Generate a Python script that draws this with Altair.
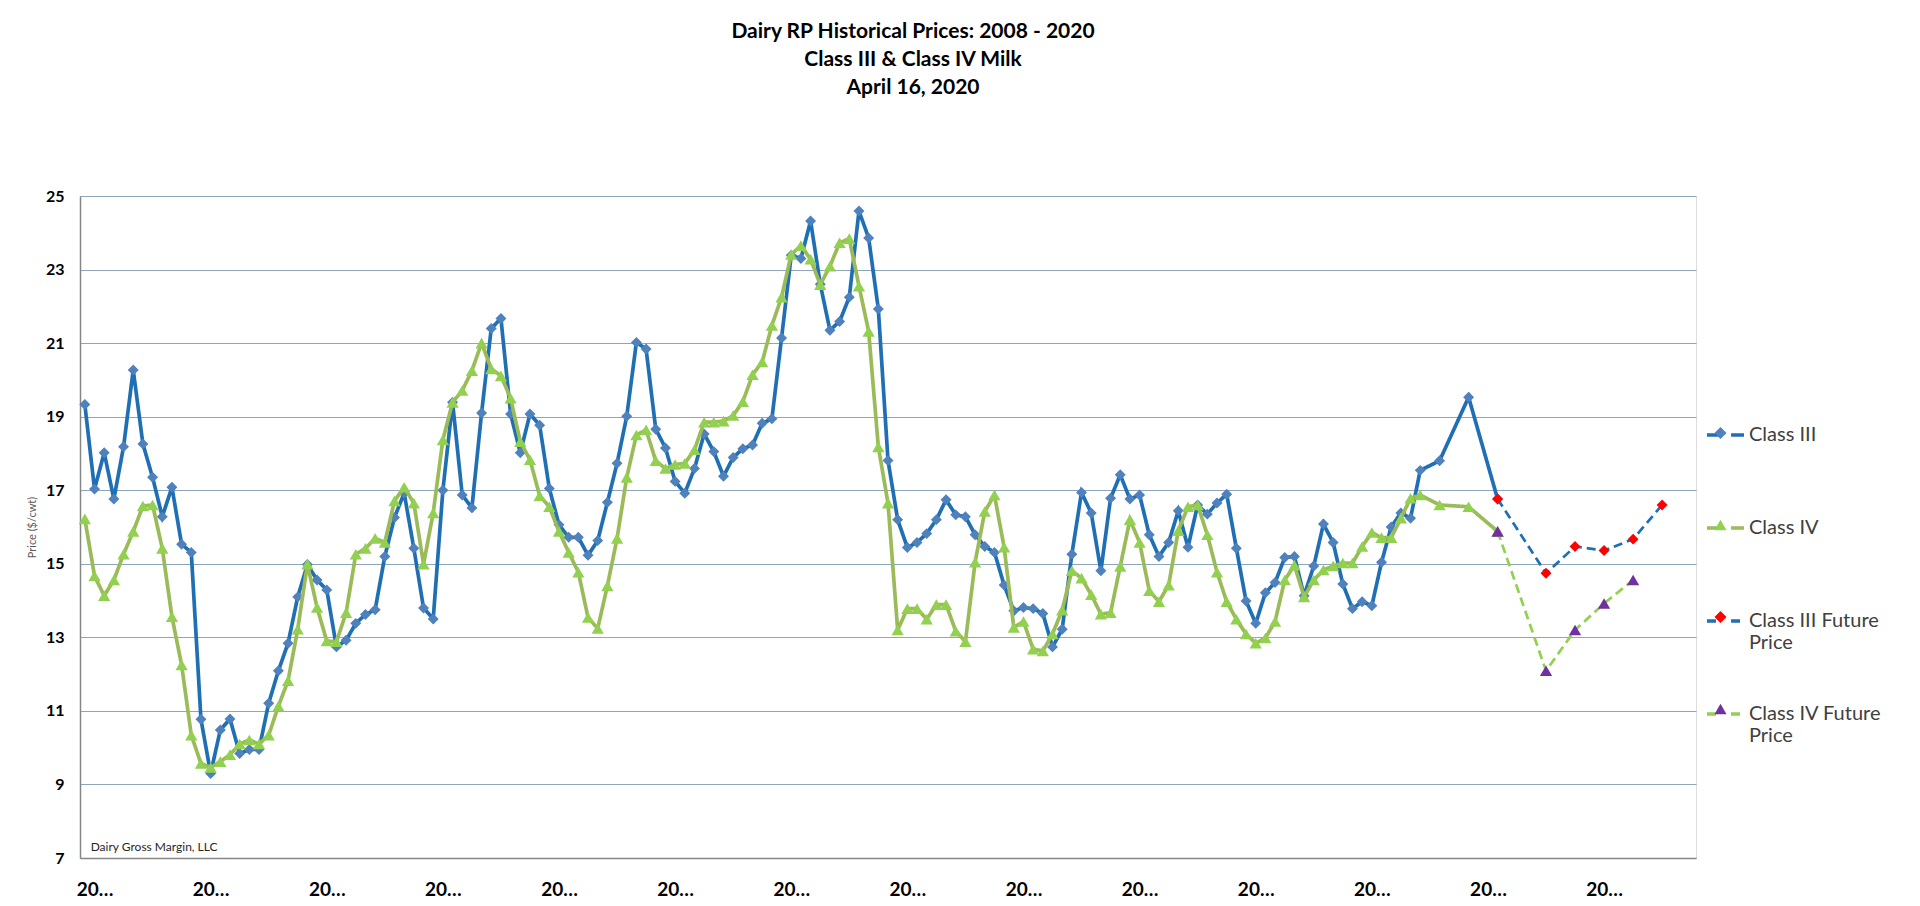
import altair as alt
import pandas as pd

# ---------------- data ----------------
hist_months = list(range(139)) + [140, 143, 146]

class_iii = [
    19.33, 17.03, 18.02, 16.76, 18.18, 20.27, 18.26, 17.35, 16.28, 17.08, 15.53, 15.31,
    10.77, 9.30, 10.48, 10.78, 9.84, 9.95, 9.95, 11.21, 12.09, 12.84, 14.10, 14.98,
    14.56, 14.29, 12.74, 12.92, 13.38, 13.62, 13.75, 15.20, 16.26, 16.92, 15.42, 13.80,
    13.50, 17.00, 19.39, 16.87, 16.52, 19.10, 21.40, 21.67, 19.07, 18.02, 19.07, 18.77,
    17.05, 16.06, 15.72, 15.72, 15.23, 15.63, 16.67, 17.73, 19.01, 21.02, 20.84, 18.66,
    18.15, 17.24, 16.92, 17.59, 18.53, 18.05, 17.38, 17.89, 18.13, 18.23, 18.82, 18.94,
    21.14, 23.39, 23.30, 24.32, 22.60, 21.35, 21.59, 22.25, 24.59, 23.86, 21.93, 17.81,
    16.20, 15.44, 15.58, 15.82, 16.20, 16.74, 16.33, 16.28, 15.79, 15.47, 15.31, 14.42,
    13.72, 13.81, 13.78, 13.65, 12.74, 13.22, 15.26, 16.94, 16.38, 14.81, 16.78, 17.42,
    16.76, 16.87, 15.79, 15.20, 15.58, 16.44, 15.45, 16.60, 16.35, 16.65, 16.89, 15.42,
    13.99, 13.38, 14.21, 14.49, 15.17, 15.20, 14.13, 14.94, 16.08, 15.58, 14.45, 13.78,
    13.97, 13.86, 15.04, 16.00, 16.38, 16.24, 17.54,
    17.80, 19.53, 16.76,
]

class_iv = [
    16.22, 14.67, 14.13, 14.56, 15.26, 15.88, 16.57, 16.60, 15.42, 13.56, 12.25, 10.34,
    9.57, 9.46, 9.62, 9.81, 10.10, 10.21, 10.10, 10.34, 11.13, 11.82, 13.22, 14.99,
    13.81, 12.90, 12.88, 13.67, 15.26, 15.42, 15.69, 15.58, 16.71, 17.08, 16.65, 14.99,
    16.38, 18.37, 19.39, 19.71, 20.25, 21.00, 20.30, 20.11, 19.50, 18.32, 17.83, 16.85,
    16.55, 15.88, 15.31, 14.77, 13.54, 13.24, 14.40, 15.69, 17.35, 18.50, 18.64, 17.80,
    17.59, 17.70, 17.73, 18.10, 18.85, 18.85, 18.88, 19.03, 19.41, 20.14, 20.49, 21.48,
    22.25, 23.41, 23.65, 23.28, 22.59, 23.09, 23.73, 23.84, 22.55, 21.32, 18.18, 16.65,
    13.20, 13.78, 13.78, 13.49, 13.89, 13.89, 13.17, 12.88, 15.04, 16.42, 16.87, 15.45,
    13.27, 13.43, 12.68, 12.63, 13.09, 13.74, 14.81, 14.61, 14.16, 13.63, 13.67, 14.93,
    16.20, 15.58, 14.27, 13.97, 14.42, 15.90, 16.55, 16.60, 15.79, 14.77, 13.97, 13.49,
    13.09, 12.84, 12.98, 13.43, 14.56, 14.96, 14.10, 14.56, 14.83, 14.94, 15.02, 15.02,
    15.47, 15.85, 15.71, 15.71, 16.24, 16.78, 16.87,
    16.60, 16.55, 15.88,
]

future_iii_months = [146, 151, 154, 157, 160, 163]
future_iii = [16.76, 14.74, 15.47, 15.36, 15.67, 16.60]
future_iv_months = [146, 151, 154, 157, 160]
future_iv = [15.88, 12.09, 13.20, 13.92, 14.56]

series_names = ["Class III", "Class IV", "Class III Future Price", "Class IV Future Price"]
marker_names = ["III marker", "IV marker", "III future marker", "IV future marker"]
line_colors = ["#1F6FB4", "#9BBB59", "#1F6FB4", "#92D050"]
marker_colors = ["#4F81BD", "#92D050", "#FF0000", "#7030A0"]
marker_shapes = ["diamond", "triangle-up", "diamond", "triangle-up"]
dash_styles = [[1, 0], [1, 0], [9, 5], [9, 5]]

year_tick_months = [1 + 12 * k for k in range(14)]
y_ticks = [7, 9, 11, 13, 15, 17, 19, 21, 23, 25]
title_lines = ["Dairy RP Historical Prices: 2008 - 2020", "Class III & Class IV Milk", "April 16, 2020"]
note_text = "Dairy Gross Margin, LLC"
note_month = 0.6
note_price = 7.3

# ---------------- long table ----------------
rows = []
for sname, mname, months, vals in [
    (series_names[0], marker_names[0], hist_months, class_iii),
    (series_names[1], marker_names[1], hist_months, class_iv),
    (series_names[2], marker_names[2], future_iii_months, future_iii),
    (series_names[3], marker_names[3], future_iv_months, future_iv),
]:
    for m, v in zip(months, vals):
        rows.append({"month": m, "price": v, "series": sname, "marker": mname})
df = pd.DataFrame(rows)
note_df = pd.DataFrame({"month": [note_month], "price": [note_price], "text": [note_text]})

FONT = "Lato"

x_enc = alt.X(
    "month:Q",
    scale=alt.Scale(domain=[-0.5, 166.5], nice=False, zero=False),
    axis=alt.Axis(
        values=year_tick_months, labelExpr="'20\u2026'", grid=False, ticks=False, tickSize=0,
        domainColor="#868686", domainWidth=1.5, labelFont=FONT, labelFontWeight="bold",
        labelFontSize=19, labelColor="#000000", labelPadding=22, labelFlush=False,
        labelOverlap=False, labelBaseline="top", title=None,
    ),
)
y_enc = alt.Y(
    "price:Q",
    scale=alt.Scale(domain=[7, 25], nice=False, zero=False),
    axis=alt.Axis(
        values=y_ticks, grid=True, gridColor="#8FA5B9", gridWidth=1.2, ticks=False, tickSize=0,
        domainColor="#868686", domainWidth=1.5, labelFont=FONT, labelFontWeight="bold",
        labelFontSize=16, labelColor="#000000", labelPadding=16,
        title="Price ($/cwt)", titleFont=FONT, titleFontSize=11, titleFontWeight="normal",
        titleColor="#595959", titleAngle=270, titleX=-48, titleY=331,
        titleAlign="center", titleBaseline="middle",
    ),
)

line_legend = alt.Legend(
    orient="none", legendX=1625, legendY=218.5, title=None,
    symbolType="M-1,0L-0.3,0M0.3,0L1,0", symbolSize=1369, symbolStrokeWidth=3.5,
    labelFont=FONT, labelFontSize=20, labelColor="#404040", labelOffset=3, labelLimit=300,
    gridAlign="all", rowPadding=40, padding=0,
    labelExpr="datum.label == 'Class III Future Price' ? ['Class III Future', 'Price'] : "
              "datum.label == 'Class IV Future Price' ? ['Class IV Future', 'Price'] : datum.label",
)
point_legend = alt.Legend(
    orient="none", legendX=1634.5, legendY=231, title=None,
    symbolSize=144, symbolStrokeWidth=0,
    labelFontSize=1, labelExpr="''",
    gridAlign="all", rowPadding=80, padding=0,
)

stroke_enc = alt.Stroke("series:N", scale=alt.Scale(domain=series_names, range=line_colors), legend=line_legend)
dash_enc = alt.StrokeDash("series:N", scale=alt.Scale(domain=series_names, range=dash_styles), legend=line_legend)
fill_enc = alt.Fill("marker:N", scale=alt.Scale(domain=marker_names, range=marker_colors), legend=point_legend)
shape_enc = alt.Shape("marker:N", scale=alt.Scale(domain=marker_names, range=marker_shapes), legend=point_legend)

base = alt.Chart(df)


def line_layer(name, width):
    return base.transform_filter(alt.datum.series == name).mark_line(strokeWidth=width).encode(
        x=x_enc, y=y_enc, stroke=stroke_enc, strokeDash=dash_enc, order="month:Q"
    )


def point_layer(name, size):
    return base.transform_filter(alt.datum.series == name).mark_point(
        filled=True, opacity=1, strokeWidth=0, size=size
    ).encode(x=x_enc, y=y_enc, fill=fill_enc, shape=shape_enc)


note = alt.Chart(note_df).mark_text(
    align="left", baseline="middle", font=FONT, fontSize=12, color="#262626"
).encode(x=alt.X("month:Q"), y=alt.Y("price:Q"), text="text:N")

chart = alt.layer(
    line_layer("Class III", 3.7),
    point_layer("Class III", 120),
    line_layer("Class IV", 3.7),
    point_layer("Class IV", 150),
    line_layer("Class III Future Price", 2.7),
    line_layer("Class IV Future Price", 2.7),
    point_layer("Class III Future Price", 120),
    point_layer("Class IV Future Price", 150),
    note,
).properties(
    width=1616,
    height=662,
    autosize=alt.AutoSizeParams(type="none"),
    padding={"left": 72, "top": 188, "right": 201, "bottom": 40},
    title=alt.TitleParams(
        text=title_lines, font=FONT, fontSize=21, fontWeight="bold", color="#000000",
        lineHeight=28, anchor="middle", dx=25, offset=90, frame="group",
    ),
).configure_view(stroke=None).configure(background="white")

chart.save("out.html", embed_options={"renderer": "svg", "actions": False})
